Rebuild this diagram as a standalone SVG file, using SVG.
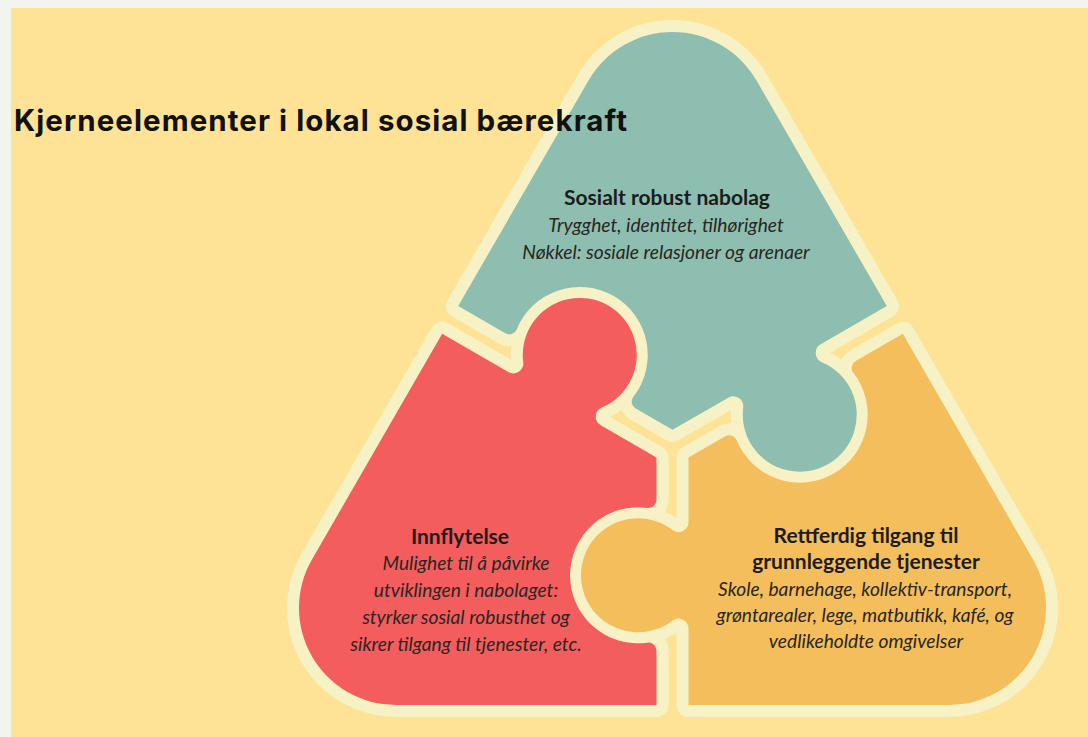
<svg xmlns="http://www.w3.org/2000/svg" xmlns:xlink="http://www.w3.org/1999/xlink" width="1088" height="737" viewBox="0 0 1088 737">
<style>
.ring{fill:#F6F2C6;stroke:#F6F2C6;stroke-width:24;stroke-linejoin:round}
.t-bold{font-family:Lato,"Liberation Sans",sans-serif;font-weight:700;font-size:21px;fill:#1c1c1c;text-anchor:middle}
.t-it{font-family:Lato,"Liberation Sans",sans-serif;font-style:italic;font-size:19.2px;fill:#2a2622;text-anchor:middle}
.title{font-family:Inter,"Liberation Sans",sans-serif;font-weight:700;font-size:29.5px;fill:#111}
</style>
<defs>
<path id="piece" d="M -214.31 -142.21 L -84.00 -367.80 A 97 97 0 0 1 84.00 -367.80 L 214.31 -142.21 L 148.20 -104.04 A 10 10 0 0 0 149.32 -86.17 A 57 57 0 1 1 70.69 -40.77 A 10 10 0 0 0 55.77 -50.67 L 0 -18.48 L -36.80 -39.72 A 8 8 0 0 1 -39.10 -51.57 A 68 68 0 1 0 -155.76 -118.92 A 8 8 0 0 1 -167.17 -114.99 Z"/>
</defs>
<rect x="0" y="0" width="1088" height="737" fill="#F4F4EE"/>
<rect x="11" y="8" width="1077" height="729" fill="#FEE296"/>
<g id="connectors" transform="translate(672.5,448.3)">
<use xlink:href="#piece" class="ring"/>
<use xlink:href="#piece" class="ring" transform="rotate(120)"/>
<use xlink:href="#piece" class="ring" transform="rotate(240)"/>
</g>
<g id="node-sosialt">
<use xlink:href="#piece" transform="translate(672.5,448.3)" fill="#8EBEB0"/>
<text class="t-bold" x="667" y="205">Sosialt robust nabolag</text>
<text class="t-it" x="666" y="232">Trygghet, identitet, tilhørighet</text>
<text class="t-it" x="666" y="259">Nøkkel: sosiale relasjoner og arenaer</text>
</g>
<g id="node-rettferdig">
<use xlink:href="#piece" transform="translate(672.5,448.3) rotate(120)" fill="#F4BE5C"/>
<text class="t-bold" x="866" y="543">Rettferdig tilgang til</text>
<text class="t-bold" x="866" y="569">grunnleggende tjenester</text>
<text class="t-it" x="865" y="596">Skole, barnehage, kollektiv-transport,</text>
<text class="t-it" x="865" y="622">grøntarealer, lege, matbutikk, kafé, og</text>
<text class="t-it" x="866" y="648">vedlikeholdte omgivelser</text>
</g>
<g id="node-innflytelse">
<use xlink:href="#piece" transform="translate(672.5,448.3) rotate(240)" fill="#F45D5E"/>
<text class="t-bold" x="460" y="544">Innflytelse</text>
<text class="t-it" x="466" y="570">Mulighet til å påvirke</text>
<text class="t-it" x="466" y="597">utviklingen i nabolaget:</text>
<text class="t-it" x="466" y="624">styrker sosial robusthet og</text>
<text class="t-it" x="466" y="651">sikrer tilgang til tjenester, etc.</text>
</g>
<text class="title" x="14" y="131" textLength="613" lengthAdjust="spacing">Kjerneelementer i lokal sosial bærekraft</text>
</svg>
